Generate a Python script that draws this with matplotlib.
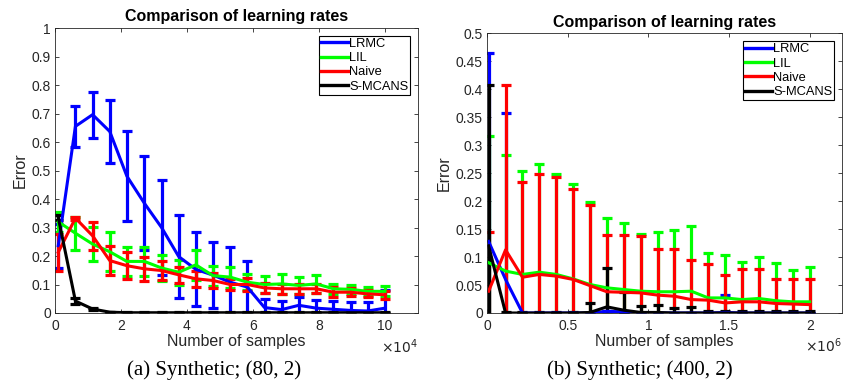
import matplotlib
matplotlib.use("Agg")
import matplotlib.pyplot as plt
from matplotlib.lines import Line2D

plt.rcParams['font.family'] = ['Liberation Sans', 'DejaVu Sans']

# ---- panel (a): Synthetic (80, 2), x in units of 1e4
xa = [0.1, 0.62, 1.14, 1.66, 2.18, 2.71, 3.23, 3.75, 4.27, 4.79,
      5.31, 5.83, 6.35, 6.87, 7.39, 7.92, 8.44, 8.96, 9.48, 10.0]
lrmc_a = [0.236, 0.655, 0.696, 0.637, 0.48, 0.385, 0.30, 0.198, 0.153, 0.133,
          0.108, 0.091, 0.019, 0.012, 0.027, 0.017, 0.013, 0.009, 0.007, 0.017]
lrmc_a_err = [0.078, 0.073, 0.081, 0.111, 0.157, 0.165, 0.167, 0.145, 0.13, 0.115,
              0.124, 0.09, 0.03, 0.03, 0.03, 0.03, 0.03, 0.03, 0.03, 0.064]
lil_a = [0.32, 0.28, 0.242, 0.215, 0.181, 0.181, 0.158, 0.143, 0.169, 0.131,
         0.126, 0.108, 0.10, 0.102, 0.097, 0.102, 0.085, 0.083, 0.076, 0.076]
lil_a_err = [0.035, 0.058, 0.061, 0.069, 0.052, 0.05, 0.044, 0.043, 0.052, 0.035,
             0.037, 0.029, 0.029, 0.035, 0.029, 0.032, 0.018, 0.016, 0.015, 0.017]
naive_a = [0.213, 0.333, 0.271, 0.184, 0.166, 0.155, 0.149, 0.134, 0.12, 0.114,
           0.10, 0.10, 0.088, 0.085, 0.085, 0.085, 0.073, 0.073, 0.067, 0.064]
naive_a_err = [0.064, 0.005, 0.05, 0.05, 0.048, 0.042, 0.033, 0.027, 0.028, 0.025,
               0.02, 0.024, 0.019, 0.018, 0.018, 0.016, 0.017, 0.014, 0.012, 0.014]
smcans_a = [0.335, 0.042, 0.014, 0.003, 0.001, 0.001, 0.001, 0.001, 0.001, 0.001,
            0.001, 0.001, 0.001, 0.001, 0.001, 0.001, 0.001, 0.001, 0.001, 0.001]
smcans_a_err = [0.008, 0.012, 0.005, 0.002, 0.001, 0.001, 0.001, 0.001, 0.001, 0.001,
                0.001, 0.001, 0.001, 0.001, 0.001, 0.001, 0.001, 0.001, 0.001, 0.001]

# ---- panel (b): Synthetic (400, 2), x in units of 1e6
xb = [0.01, 0.115, 0.22, 0.324, 0.429, 0.534, 0.638, 0.743, 0.848, 0.952,
      1.057, 1.162, 1.266, 1.371, 1.476, 1.581, 1.685, 1.79, 1.895, 2.0]
lrmc_b = [0.128, 0.06, 0.0, 0.0, 0.0, 0.0, 0.0, 0.003, 0.002, 0.0,
          0.0, 0.0, 0.0, 0.0, 0.001, 0.0, 0.0, 0.0, 0.0, 0.0]
lrmc_b_up = [0.465, 0.357, 0.0, 0.0, 0.0, 0.0, 0.0, 0.003, 0.002, 0.0,
             0.0, 0.0, 0.0, 0.0, 0.033, 0.0, 0.0, 0.0, 0.0, 0.0]
lil_b = [0.09, 0.075, 0.069, 0.073, 0.069, 0.061, 0.051, 0.045, 0.042, 0.039,
         0.038, 0.038, 0.039, 0.027, 0.027, 0.024, 0.026, 0.022, 0.020, 0.020]
lil_b_up = [0.316, 0.282, 0.254, 0.266, 0.248, 0.231, 0.198, 0.170, 0.161, 0.142,
            0.144, 0.149, 0.155, 0.107, 0.104, 0.091, 0.101, 0.089, 0.077, 0.082]
naive_b = [0.039, 0.113, 0.064, 0.069, 0.066, 0.060, 0.049, 0.038, 0.037, 0.036,
           0.032, 0.030, 0.024, 0.023, 0.018, 0.020, 0.020, 0.017, 0.016, 0.015]
naive_b_up = [0.145, 0.408, 0.234, 0.249, 0.243, 0.222, 0.193, 0.140, 0.140, 0.138,
              0.114, 0.114, 0.095, 0.088, 0.068, 0.078, 0.078, 0.060, 0.061, 0.060]
smcans_b = [0.12, 0.0, 0.0, 0.0, 0.0, 0.0, 0.001, 0.011, 0.005, 0.001,
            0.001, 0.0, 0.0, 0.0, 0.0, 0.0, 0.0, 0.0, 0.0, 0.0]
smcans_b_up = [0.408, 0.002, 0.002, 0.002, 0.002, 0.002, 0.017, 0.080, 0.038, 0.013,
               0.015, 0.009, 0.010, 0.004, 0.004, 0.004, 0.004, 0.004, 0.004, 0.004]

labels = ['LRMC', 'LIL', 'Naive', 'S-MCANS']
colors = ['#0000ff', '#00ff00', '#ff0000', '#000000']
gray = '#262626'

fig = plt.figure(figsize=(8.43, 3.88), dpi=100)
ax1 = fig.add_axes([0.0652, 0.1933, 0.4306, 0.7345])
ax2 = fig.add_axes([0.5777, 0.1933, 0.4211, 0.7204])


def style(ax, xlim, ylim, xt, xtl, yt, ytl, mult):
    ax.set_xlim(*xlim)
    ax.set_ylim(*ylim)
    ax.set_xticks(xt)
    ax.set_xticklabels(xtl)
    ax.set_yticks(yt)
    ax.set_yticklabels(ytl)
    ax.tick_params(direction='in', top=True, right=True, labelsize=10,
                   colors=gray, length=3, width=0.6)
    ax.tick_params(axis='x', pad=4)
    ax.tick_params(axis='y', pad=3)
    for s in ax.spines.values():
        s.set_color(gray)
        s.set_linewidth(0.6)
    ax.set_title('Comparison of learning rates', fontsize=11.5, fontweight='bold', pad=5)
    ax.set_xlabel('Number of samples', fontsize=11.5, color=gray, labelpad=1)
    ax.set_ylabel('Error', fontsize=11.5, color=gray, labelpad=3)
    ax.text(1.0, -0.085, r'$\times10^{%d}$' % mult, transform=ax.transAxes,
            ha='right', va='top', fontsize=10, color=gray)
    handles = [Line2D([], [], color=c, lw=2.4) for c in colors]
    leg = ax.legend(handles, labels, loc='upper right', fontsize=9.3,
                    fancybox=False, framealpha=1, edgecolor='black',
                    handlelength=2.1, handletextpad=0.1, labelspacing=0.18,
                    borderpad=0.15, borderaxespad=0.6)
    leg.get_frame().set_linewidth(0.8)


# panel (a)
series_a = [(lrmc_a, lrmc_a_err), (lil_a, lil_a_err), (naive_a, naive_a_err),
            (smcans_a, smcans_a_err)]
for (y, e), c in zip(series_a, colors):
    ax1.errorbar(xa, y, yerr=e, color=c, lw=2.2, elinewidth=2.3,
                 capsize=3.6, capthick=2.3)
style(ax1, (0, 11), (0, 1), [0, 2, 4, 6, 8, 10], ['0', '2', '4', '6', '8', '10'],
      [i / 10 for i in range(11)],
      ['0', '0.1', '0.2', '0.3', '0.4', '0.5', '0.6', '0.7', '0.8', '0.9', '1'], 4)

# panel (b): symmetric bars, mean +/- (upper - mean)
series_b = [(lrmc_b, lrmc_b_up), (lil_b, lil_b_up), (naive_b, naive_b_up),
            (smcans_b, smcans_b_up)]
for (y, up), c in zip(series_b, colors):
    e = [u - m for u, m in zip(up, y)]
    ax2.errorbar(xb, y, yerr=e, color=c, lw=2.2, elinewidth=2.3,
                 capsize=3.6, capthick=2.3)
style(ax2, (0, 2.2), (0, 0.5), [0, 0.5, 1, 1.5, 2], ['0', '0.5', '1', '1.5', '2'],
      [i * 0.05 for i in range(11)],
      ['0', '0.05', '0.1', '0.15', '0.2', '0.25', '0.3', '0.35', '0.4', '0.45', '0.5'], 6)

serif = ['Liberation Serif', 'DejaVu Serif']
fig.text(0.254, 0.047, '(a) Synthetic; (80, 2)', ha='center', va='center',
         fontsize=15, family=serif)
fig.text(0.759, 0.047, '(b) Synthetic; (400, 2)', ha='center', va='center',
         fontsize=15, family=serif)

fig.savefig('out.png', dpi=100)
